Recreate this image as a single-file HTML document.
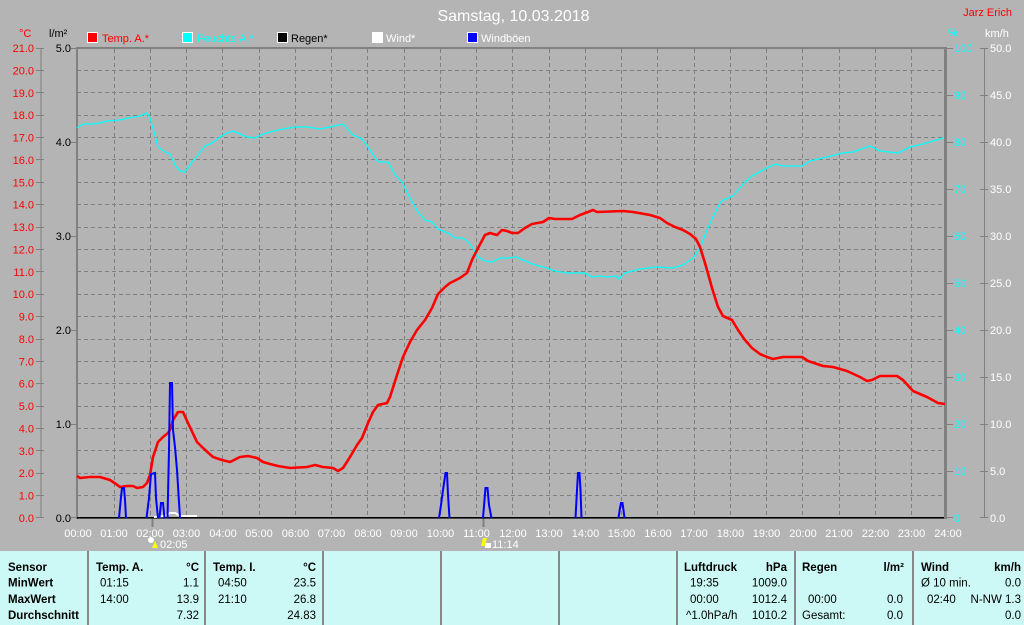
<!DOCTYPE html>
<html>
<head>
<meta charset="utf-8">
<style>
html,body{margin:0;padding:0;background:#b4b4b4;width:1024px;height:625px;overflow:hidden;}
svg{display:block;font-family:"Liberation Sans",Arial,sans-serif;}
.ax{font-size:11px;}
.tb{font-size:11.5px;fill:#000;}
.b{font-weight:bold;}
</style>
</head>
<body>
<svg width="1024" height="625" viewBox="0 0 1024 625" xmlns="http://www.w3.org/2000/svg">
<rect x="0" y="0" width="1024" height="625" fill="#b4b4b4"/>

<!-- title -->
<text x="513.5" y="21" font-size="16" fill="#ffffff" text-anchor="middle">Samstag, 10.03.2018</text>
<text x="1012" y="16" font-size="11" fill="#ff0000" text-anchor="end">Jarz Erich</text>

<!-- axis unit headers -->
<text x="19" y="37" class="ax" fill="#ff0000">°C</text>
<text x="49" y="37" class="ax" fill="#000">l/m²</text>
<text x="948" y="36" class="ax" fill="#00ffff">%</text>
<text x="985" y="37" class="ax" fill="#ffffff">km/h</text>

<!-- legend -->
<rect x="87.5" y="32.5" width="10" height="10" fill="#ff0000" stroke="#fff"/>
<text x="102" y="42" class="ax" fill="#ff0000">Temp. A.*</text>
<rect x="182.5" y="32.5" width="10" height="10" fill="#00ffff" stroke="#fff"/>
<text x="197" y="42" class="ax" fill="#00ffff">Feuchte A.*</text>
<rect x="277.5" y="32.5" width="10" height="10" fill="#000" stroke="#fff"/>
<text x="291" y="42" class="ax" fill="#000">Regen*</text>
<rect x="372.5" y="32.5" width="10" height="10" fill="#fff" stroke="#fff"/>
<text x="386" y="42" class="ax" fill="#fff">Wind*</text>
<rect x="467.5" y="32.5" width="10" height="10" fill="#0000ff" stroke="#fff"/>
<text x="481" y="42" class="ax" fill="#fff">Windböen</text>

<!-- grid -->
<g stroke="#808080" stroke-width="1" stroke-dasharray="4 3" fill="none">
<path d="M77 70.5H944M77 92.5H944M77 115.5H944M77 137.5H944M77 159.5H944M77 182.5H944M77 204.5H944M77 227.5H944M77 249.5H944M77 271.5H944M77 294.5H944M77 316.5H944M77 339.5H944M77 361.5H944M77 383.5H944M77 406.5H944M77 428.5H944M77 450.5H944M77 473.5H944M77 495.5H944"/>
<path d="M114.5 49V518M150.5 49V518M186.5 49V518M222.5 49V518M259.5 49V518M295.5 49V518M331.5 49V518M367.5 49V518M404.5 49V518M440.5 49V518M476.5 49V518M512.5 49V518M549.5 49V518M585.5 49V518M621.5 49V518M657.5 49V518M694.5 49V518M730.5 49V518M766.5 49V518M802.5 49V518M839.5 49V518M875.5 49V518M911.5 49V518"/>
</g>

<!-- frame -->
<rect x="76" y="47" width="870" height="2" fill="#808080"/>
<rect x="76" y="47" width="2" height="472" fill="#808080"/>
<rect x="944" y="47" width="3" height="472" fill="#808080"/>

<!-- left temp axis -->
<g stroke="#808080" stroke-width="1">
<path d="M41 48V518"/>
<path d="M36 48.5H44M36 70.5H44M36 92.5H44M36 115.5H44M36 137.5H44M36 159.5H44M36 182.5H44M36 204.5H44M36 227.5H44M36 249.5H44M36 271.5H44M36 294.5H44M36 316.5H44M36 339.5H44M36 361.5H44M36 383.5H44M36 406.5H44M36 428.5H44M36 450.5H44M36 473.5H44M36 495.5H44M36 517.5H44"/>
<path d="M71 48.5H77M71 142.5H77M71 236.5H77M71 330.5H77M71 424.5H77M71 517.5H77"/>
<path d="M946 48.5H953M946 95.5H953M946 142.5H953M946 189.5H953M946 236.5H953M946 283.5H953M946 330.5H953M946 377.5H953M946 424.5H953M946 471.5H953M946 517.5H953"/>
<path d="M984.5 48V518"/>
<path d="M980 48.5H988M980 95.5H988M980 142.5H988M980 189.5H988M980 236.5H988M980 283.5H988M980 330.5H988M980 377.5H988M980 424.5H988M980 471.5H988M980 517.5H988"/>
</g>

<g class="ax" fill="#ff0000" text-anchor="end">
<text x="34" y="52">21.0</text>
<text x="34" y="74.4">20.0</text>
<text x="34" y="96.8">19.0</text>
<text x="34" y="119.1">18.0</text>
<text x="34" y="141.5">17.0</text>
<text x="34" y="163.9">16.0</text>
<text x="34" y="186.3">15.0</text>
<text x="34" y="208.7">14.0</text>
<text x="34" y="231">13.0</text>
<text x="34" y="253.4">12.0</text>
<text x="34" y="275.8">11.0</text>
<text x="34" y="298.2">10.0</text>
<text x="34" y="320.6">9.0</text>
<text x="34" y="342.9">8.0</text>
<text x="34" y="365.3">7.0</text>
<text x="34" y="387.7">6.0</text>
<text x="34" y="410.1">5.0</text>
<text x="34" y="432.5">4.0</text>
<text x="34" y="454.9">3.0</text>
<text x="34" y="477.2">2.0</text>
<text x="34" y="499.6">1.0</text>
<text x="34" y="522">0.0</text>
</g>
<g class="ax" fill="#000" text-anchor="end">
<text x="71" y="52">5.0</text>
<text x="71" y="146">4.0</text>
<text x="71" y="240">3.0</text>
<text x="71" y="334">2.0</text>
<text x="71" y="428">1.0</text>
<text x="71" y="522">0.0</text>
</g>
<g class="ax" fill="#00ffff">
<text x="954" y="52">100</text>
<text x="954" y="99">90</text>
<text x="954" y="146">80</text>
<text x="954" y="193">70</text>
<text x="954" y="240">60</text>
<text x="954" y="287">50</text>
<text x="954" y="334">40</text>
<text x="954" y="381">30</text>
<text x="954" y="428">20</text>
<text x="954" y="475">10</text>
<text x="954" y="522">0</text>
</g>
<g class="ax" fill="#ffffff">
<text x="990" y="52">50.0</text>
<text x="990" y="99">45.0</text>
<text x="990" y="146">40.0</text>
<text x="990" y="193">35.0</text>
<text x="990" y="240">30.0</text>
<text x="990" y="287">25.0</text>
<text x="990" y="334">20.0</text>
<text x="990" y="381">15.0</text>
<text x="990" y="428">10.0</text>
<text x="990" y="475">5.0</text>
<text x="990" y="522">0.0</text>
</g>

<!-- x labels -->
<g class="ax" fill="#ffffff" text-anchor="middle">
<text x="78" y="537">00:00</text>
<text x="114" y="537">01:00</text>
<text x="150" y="537">02:00</text>
<text x="186.5" y="537">03:00</text>
<text x="223" y="537">04:00</text>
<text x="259" y="537">05:00</text>
<text x="295.5" y="537">06:00</text>
<text x="331.5" y="537">07:00</text>
<text x="368" y="537">08:00</text>
<text x="404" y="537">09:00</text>
<text x="440.5" y="537">10:00</text>
<text x="476.5" y="537">11:00</text>
<text x="513" y="537">12:00</text>
<text x="549" y="537">13:00</text>
<text x="585.5" y="537">14:00</text>
<text x="621.5" y="537">15:00</text>
<text x="658" y="537">16:00</text>
<text x="694" y="537">17:00</text>
<text x="730.5" y="537">18:00</text>
<text x="766.5" y="537">19:00</text>
<text x="803" y="537">20:00</text>
<text x="839" y="537">21:00</text>
<text x="875.5" y="537">22:00</text>
<text x="911.5" y="537">23:00</text>
<text x="948" y="537">24:00</text>
</g>

<!-- sunrise/sunset markers -->
<rect x="151.5" y="518" width="2" height="9" fill="#808080"/>
<rect x="482.5" y="518" width="2" height="9" fill="#808080"/>
<circle cx="151" cy="540" r="3" fill="#ffffff"/>
<polygon points="155,541 158,548 152,548" fill="#ffff00"/>
<text x="160" y="548" class="ax" fill="#ffffff">02:05</text>
<polygon points="483,538 487,538 485,546 481,546" fill="#ffff00"/>
<rect x="485" y="543" width="6" height="5" fill="#ffffff"/>
<text x="492" y="548" class="ax" fill="#ffffff">11:14</text>

<!-- humidity -->
<polyline fill="none" stroke="#00ffff" stroke-width="1.3" stroke-linejoin="round" points="77,128 83,124 93,124 100,123 107,121 120,120 128,118 140,116 147,113 150,118 153,128 158,147 165,152 170,154 175,165 180,171 185,172 192,162 198,155 205,146 212,143 220,137 227,133 233,131 240,134 247,137 255,138 263,134 270,132 283,129 295,127 307,127 320,129 330,127 343,124 353,135 362,139 368,147 378,162 388,162 395,175 402,182 410,198 418,212 425,220 432,222 438,229 450,234 455,238 463,238 468,242 473,248 478,257 485,261 492,262 500,258 508,258 516,257 523,260 535,265 547,268 555,271 567,273 585,273 592,277 600,276 607,277 616,276 619,279 625,273 640,269 657,267 673,268 683,265 693,258 700,248 707,230 713,217 720,203 723,200 733,196 745,182 752,176 763,170 775,164 783,166 802,166 810,161 827,157 843,153 853,152 870,146 880,151 898,153 910,147 923,144 933,141 943,138"/>

<!-- temperature -->
<polyline fill="none" stroke="#ff0000" stroke-width="2.6" stroke-linejoin="round" points="77,476 80,478 90,477 100,477 110,480 116,484 120,487 127,486 133,486 137,488 143,487 147,483 150,475 153,457 158,442 163,437 168,433 171,428 173,420 178,412 183,412 188,423 197,442 203,448 213,457 222,460 230,462 240,457 248,456 257,458 263,462 270,464 278,466 290,468 307,467 315,465 323,467 333,468 338,471 343,468 350,457 357,445 362,438 368,423 373,412 378,405 387,403 390,397 397,375 403,357 410,342 417,330 425,320 432,308 438,294 445,287 450,283 460,278 467,273 472,260 477,250 485,235 490,233 497,235 502,230 507,231 512,233 518,233 525,228 532,224 543,222 549,218 555,219 572,219 580,215 588,212 593,210 597,212 623,211 633,212 650,215 660,218 667,223 675,227 683,230 690,234 696,239 700,247 705,263 707,270 712,288 718,307 723,316 732,320 738,330 745,340 752,348 760,354 767,357 773,359 778,358 783,357 802,357 808,361 823,366 833,367 847,371 860,377 867,381 872,380 880,376 897,376 903,380 913,391 927,397 938,403 945,404"/>

<!-- zero line (rain) -->
<rect x="77" y="517" width="867" height="1.6" fill="#000"/>

<!-- wind -->
<polyline fill="none" stroke="#ffffff" stroke-width="2" points="154,517 165,516 170,513 175,513 180,516 197,516"/>

<!-- gusts -->
<g fill="none" stroke="#0000ff" stroke-width="2" stroke-linejoin="miter">
<polyline points="119,518 121,497 122,488 124,488 125,500 126,518"/>
<polyline points="146.5,518 149,498 151,474 155,473 156,498 158,518"/>
<polyline points="159.5,518 161,503 163,503 164.5,518"/>
<polyline points="167.5,518 169,450 170,383 172,383 173,430 175,447 177,470 180,518"/>
<polyline points="439,518 441,505 443,490 444.5,480 445.5,473 447,473 448,495 449.5,518"/>
<polyline points="483,518 484.5,500 485.5,488 487.5,488 489,505 491.5,518"/>
<polyline points="575.5,518 577,490 578,473 579.5,473 580.5,490 581.5,518"/>
<polyline points="618.5,518 620,508 621,503 622.5,503 623.5,510 624.5,518"/>
</g>

<!-- table -->
<rect x="0" y="551" width="1024" height="74" fill="#ccf9f5"/>
<g fill="#888888">
<rect x="87" y="551" width="2" height="74"/>
<rect x="204" y="551" width="2" height="74"/>
<rect x="322" y="551" width="2" height="74"/>
<rect x="440" y="551" width="2" height="74"/>
<rect x="558" y="551" width="2" height="74"/>
<rect x="676" y="551" width="2" height="74"/>
<rect x="794" y="551" width="2" height="74"/>
<rect x="912" y="551" width="2" height="74"/>
</g>
<g class="tb">
<text x="8" y="571" class="b">Sensor</text>
<text x="8" y="586.5" class="b">MinWert</text>
<text x="8" y="603" class="b">MaxWert</text>
<text x="8" y="619" class="b">Durchschnitt</text>

<text x="96" y="571" class="b">Temp. A.</text>
<text x="199" y="571" class="b" text-anchor="end">°C</text>
<text x="100" y="586.5">01:15</text>
<text x="199" y="586.5" text-anchor="end">1.1</text>
<text x="100" y="603">14:00</text>
<text x="199" y="603" text-anchor="end">13.9</text>
<text x="199" y="619" text-anchor="end">7.32</text>

<text x="213" y="571" class="b">Temp. I.</text>
<text x="316" y="571" class="b" text-anchor="end">°C</text>
<text x="218" y="586.5">04:50</text>
<text x="316" y="586.5" text-anchor="end">23.5</text>
<text x="218" y="603">21:10</text>
<text x="316" y="603" text-anchor="end">26.8</text>
<text x="316" y="619" text-anchor="end">24.83</text>

<text x="684" y="571" class="b">Luftdruck</text>
<text x="787" y="571" class="b" text-anchor="end">hPa</text>
<text x="690" y="586.5">19:35</text>
<text x="787" y="586.5" text-anchor="end">1009.0</text>
<text x="690" y="603">00:00</text>
<text x="787" y="603" text-anchor="end">1012.4</text>
<text x="686" y="619">^1.0hPa/h</text>
<text x="787" y="619" text-anchor="end">1010.2</text>

<text x="802" y="571" class="b">Regen</text>
<text x="904" y="571" class="b" text-anchor="end">l/m²</text>
<text x="808" y="603">00:00</text>
<text x="903" y="603" text-anchor="end">0.0</text>
<text x="802" y="619">Gesamt:</text>
<text x="903" y="619" text-anchor="end">0.0</text>

<text x="921" y="571" class="b">Wind</text>
<text x="1021" y="571" class="b" text-anchor="end">km/h</text>
<text x="921" y="586.5">Ø 10 min.</text>
<text x="1021" y="586.5" text-anchor="end">0.0</text>
<text x="927" y="603">02:40</text>
<text x="1021" y="603" text-anchor="end">N-NW 1.3</text>
<text x="1021" y="619" text-anchor="end">0.0</text>
</g>
</svg>
</body>
</html>
